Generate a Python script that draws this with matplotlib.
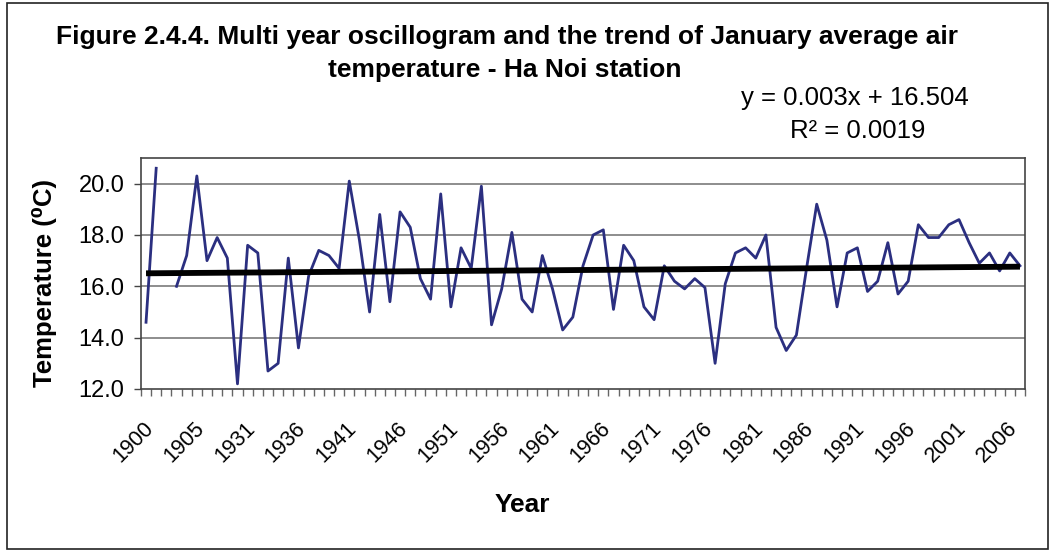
import numpy as np
import matplotlib
matplotlib.use("Agg")
import matplotlib.pyplot as plt
import matplotlib.transforms as mtransforms
from matplotlib.patches import Rectangle

plt.rcParams["font.family"] = ["Liberation Sans", "DejaVu Sans"]

# Years on the category axis (gap between 1909 and 1931 in the record)
years = list(range(1900, 1910)) + list(range(1931, 2008))

# January average air temperature, Ha Noi (deg C); 1902 missing
temps = [
    14.6, 20.6, np.nan, 16.0, 17.2, 20.3, 17.0, 17.9, 17.1, 12.2,
    17.6, 17.3, 12.7, 13.0, 17.1, 13.6, 16.4, 17.4, 17.2, 16.7,
    20.1, 17.8, 15.0, 18.8, 15.4, 18.9, 18.3, 16.3, 15.5, 19.6,
    15.2, 17.5, 16.7, 19.9, 14.5, 15.9, 18.1, 15.5, 15.0, 17.2,
    15.9, 14.3, 14.8, 16.8, 18.0, 18.2, 15.1, 17.6, 17.0, 15.2,
    14.7, 16.8, 16.2, 15.9, 16.3, 15.95, 13.0, 16.1, 17.3, 17.5,
    17.1, 18.0, 14.4, 13.5, 14.1, 16.7, 19.2, 17.8, 15.2, 17.3,
    17.5, 15.8, 16.2, 17.7, 15.7, 16.2, 18.4, 17.9, 17.9, 18.4,
    18.6, 17.7, 16.9, 17.3, 16.6, 17.3, 16.8,
]

# Linear trend as printed on the chart (x = 1, 2, ... category number)
slope = 0.003
intercept = 16.504
r_squared = 0.0019

y_ticks = [12, 14, 16, 18, 20]

pos = np.arange(len(years))
trend = slope * (pos + 1) + intercept

fig = plt.figure(figsize=(10.55, 5.52), dpi=100)
ax = fig.add_axes([0.1336, 0.2953, 0.8380, 0.4185])

ax.plot(pos, temps, color="#2B2F80", lw=2.0, zorder=3)
ax.plot(pos, trend, color="black", lw=4.2, solid_capstyle="butt", zorder=4)

ax.set_xlim(-0.5, len(years) - 0.5)
ax.set_ylim(12, 21)

# grid
ax.set_yticks(y_ticks)
ax.set_yticklabels([f"{v:.1f}" for v in y_ticks], fontsize=17)
for v in y_ticks[1:]:
    ax.axhline(v, color="#7a7a7a", lw=1.2, zorder=1)
ax.tick_params(axis="y", direction="out", length=5, width=1, color="#444444", pad=7)

# category axis: tick marks between categories, labels every 5th
label_pos = pos[::5]
ax.set_xticks(label_pos)
ax.set_xticklabels([str(years[i]) for i in label_pos], fontsize=15.5,
                   rotation=45, ha="right", va="center", rotation_mode="anchor")
ax.set_xticks(np.arange(-0.5, len(years)), minor=True)
ax.tick_params(axis="x", which="major", length=0, pad=26)
ax.tick_params(axis="x", which="minor", direction="out", length=5, width=1, color="#666666")
shift = mtransforms.ScaledTranslation(4 / 100, 0, fig.dpi_scale_trans)
for lab in ax.get_xticklabels():
    lab.set_transform(lab.get_transform() + shift)

for side in ["left", "bottom", "top", "right"]:
    ax.spines[side].set_color("#444444")
    ax.spines[side].set_linewidth(1.2)

fig.text(45 / 1055, 1 - 283 / 552, "Temperature (\u2070C)", rotation=90,
         ha="center", va="center", fontsize=18.5, fontweight="bold")
fig.text(522 / 1055, 1 - 505 / 552, "Year", ha="center", va="center",
         fontsize=19, fontweight="bold")

fig.text(507 / 1055, 1 - 37 / 552,
         "Figure 2.4.4. Multi year oscillogram and the trend of January average air",
         ha="center", va="center", fontsize=19, fontweight="bold")
fig.text(505 / 1055, 1 - 70 / 552, "temperature - Ha Noi station",
         ha="center", va="center", fontsize=19, fontweight="bold")

fig.text(855 / 1055, 1 - 98 / 552, f"y = {slope:.3f}x + {intercept:.3f}",
         ha="center", va="center", fontsize=18.5)
fig.text(858 / 1055, 1 - 131 / 552, f"R\u00b2 = {r_squared:.4f}",
         ha="center", va="center", fontsize=18.5)

# outer chart border
fig.patches.append(Rectangle((7 / 1055, 3 / 552), 1 - 14 / 1055, 1 - 6 / 552,
                             transform=fig.transFigure, fill=False,
                             edgecolor="#222222", lw=1.2))

fig.savefig("out.png", dpi=100)
